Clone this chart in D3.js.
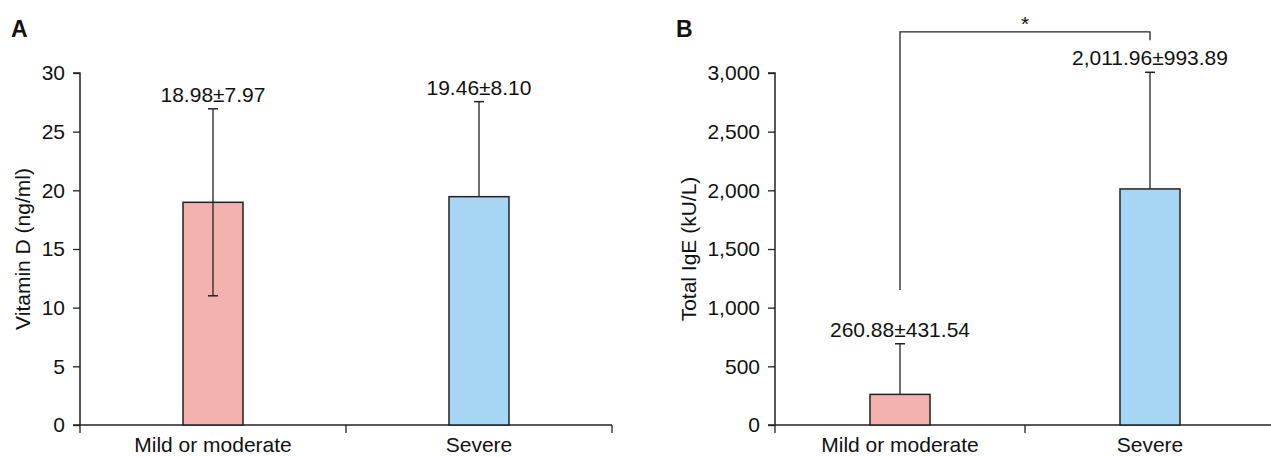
<!DOCTYPE html>
<html>
<head>
<meta charset="utf-8">
<script src="https://cdn.jsdelivr.net/npm/d3@7"></script>
<style>
  html, body { margin: 0; padding: 0; background: #fff; }
  svg { display: block; font-family: "Liberation Sans", Arial, Helvetica, sans-serif; }
</style>
</head>
<body>
<svg id="chart" width="1271" height="457"></svg>
<script>
// groups shared by both panels
const groups = ['Mild or moderate', 'Severe'];
const barColors = ['#f4b2ae', '#a6d6f4'];

// panel A: vitamin D
const vitMean = [18.98, 19.46];
const vitSd = [7.97, 8.10];
const vitLower = [true, false];   // lower whisker drawn in the original
const vitTicks = [0, 5, 10, 15, 20, 25, 30];

// panel B: total IgE
const igeMean = [260.88, 2011.96];
const igeSd = [431.54, 993.89];
const igeLower = [false, false];
const igeTicks = [0, 500, 1000, 1500, 2000, 2500, 3000];

// significance bracket in panel B (data units): left foot, top, right foot
const bracketY = [1150, 3350, 3280];
const bracketMark = '*';

const INK = '#222';
const FS = 21;
const svg = d3.select('#chart');

function drawPanel(opts) {
  const g = svg.append('g');
  const x = d3.scaleBand().domain(groups).range([opts.x0, opts.x1]);
  const y = d3.scaleLinear().domain(opts.domain).range([425, 73]);
  const barW = 60;

  // panel letter
  g.append('text')
    .attr('x', opts.letterX).attr('y', 37)
    .attr('font-size', 23).attr('font-weight', 'bold')
    .attr('fill', '#111')
    .text(opts.letter);

  // y axis
  const ya = g.append('g')
    .attr('transform', `translate(${opts.x0},0)`)
    .call(d3.axisLeft(y).tickValues(opts.ticks).tickSize(7).tickPadding(8)
      .tickFormat(d3.format(opts.fmt)));
  ya.select('.domain').attr('stroke', INK).attr('stroke-width', 1.5).attr('d', `M-7,${y(opts.domain[1])}H0V${y(0)}`);
  ya.selectAll('.tick line').attr('stroke', INK).attr('stroke-width', 1.3);
  ya.selectAll('.tick text').attr('font-size', FS).attr('fill', '#111')
    .attr('font-family', '"Liberation Sans", Arial, sans-serif');

  // x axis with ticks at band edges
  const xa = g.append('g').attr('transform', `translate(0,${y(0)})`);
  xa.append('line')
    .attr('x1', opts.x0 - 7).attr('x2', opts.x1)
    .attr('stroke', INK).attr('stroke-width', 1.5);
  const edges = [opts.x0, x(groups[1]), opts.x1];
  xa.selectAll('line.edge').data(edges).join('line')
    .attr('class', 'edge')
    .attr('x1', d => d).attr('x2', d => d)
    .attr('y1', 0).attr('y2', 8)
    .attr('stroke', INK).attr('stroke-width', 1.3);
  xa.selectAll('text').data(groups).join('text')
    .attr('x', d => x(d) + x.bandwidth() / 2)
    .attr('y', 27)
    .attr('text-anchor', 'middle')
    .attr('font-size', FS).attr('fill', '#111')
    .text(d => d);

  // y title
  g.append('text')
    .attr('transform', `translate(${opts.titleX},${(y(0) + y(opts.domain[1])) / 2}) rotate(-90)`)
    .attr('text-anchor', 'middle')
    .attr('font-size', FS).attr('fill', '#111')
    .text(opts.title);

  const cx = d => x(d) + x.bandwidth() / 2;
  const top = i => y(opts.mean[i] + opts.sd[i]);
  const low = i => y(opts.lower[i] ? Math.max(0, opts.mean[i] - opts.sd[i]) : opts.mean[i]);

  // bars
  g.selectAll('rect.bar').data(groups).join('rect')
    .attr('class', 'bar')
    .attr('x', d => cx(d) - barW / 2)
    .attr('y', (d, i) => y(opts.mean[i]))
    .attr('width', barW)
    .attr('height', (d, i) => y(0) - y(opts.mean[i]))
    .attr('fill', (d, i) => barColors[i])
    .attr('stroke', INK).attr('stroke-width', 1.5);

  // error bars
  g.selectAll('line.err').data(groups).join('line')
    .attr('class', 'err')
    .attr('x1', cx).attr('x2', cx)
    .attr('y1', (d, i) => low(i))
    .attr('y2', (d, i) => top(i))
    .attr('stroke', INK).attr('stroke-width', 1.3);
  g.selectAll('line.capTop').data(groups).join('line')
    .attr('class', 'capTop')
    .attr('x1', d => cx(d) - 5).attr('x2', d => cx(d) + 5)
    .attr('y1', (d, i) => top(i)).attr('y2', (d, i) => top(i))
    .attr('stroke', INK).attr('stroke-width', 1.5);
  g.selectAll('line.capBot').data(groups.filter((d, i) => opts.lower[i])).join('line')
    .attr('class', 'capBot')
    .attr('x1', d => cx(d) - 5).attr('x2', d => cx(d) + 5)
    .attr('y1', d => low(groups.indexOf(d))).attr('y2', d => low(groups.indexOf(d)))
    .attr('stroke', INK).attr('stroke-width', 1.5);

  // value labels
  const lf = d3.format(opts.labelFmt);
  g.selectAll('text.val').data(groups).join('text')
    .attr('class', 'val')
    .attr('x', cx)
    .attr('y', (d, i) => top(i) - 7)
    .attr('text-anchor', 'middle')
    .attr('font-size', FS).attr('fill', '#111')
    .text((d, i) => lf(opts.mean[i]) + '±' + lf(opts.sd[i]));

  return { x, y, cx };
}

drawPanel({
  letter: 'A', letterX: 11, x0: 80, x1: 612, titleX: 30,
  domain: [0, 30], ticks: vitTicks, fmt: 'd', labelFmt: '.2f',
  mean: vitMean, sd: vitSd, lower: vitLower, title: 'Vitamin D (ng/ml)'
});

const pb = drawPanel({
  letter: 'B', letterX: 676, x0: 775, x1: 1275, titleX: 696,
  domain: [0, 3000], ticks: igeTicks, fmt: ',', labelFmt: ',.2f',
  mean: igeMean, sd: igeSd, lower: igeLower, title: 'Total IgE (kU/L)'
});

// significance bracket
const bx0 = pb.cx(groups[0]), bx1 = pb.cx(groups[1]);
svg.append('path')
  .attr('d', `M${bx0},${pb.y(bracketY[0])}V${pb.y(bracketY[1])}H${bx1}V${pb.y(bracketY[2])}`)
  .attr('fill', 'none').attr('stroke', INK).attr('stroke-width', 1.3);
svg.append('text')
  .attr('x', (bx0 + bx1) / 2).attr('y', 31)
  .attr('text-anchor', 'middle')
  .attr('font-size', FS).attr('fill', '#111')
  .text(bracketMark);
</script>
</body>
</html>
